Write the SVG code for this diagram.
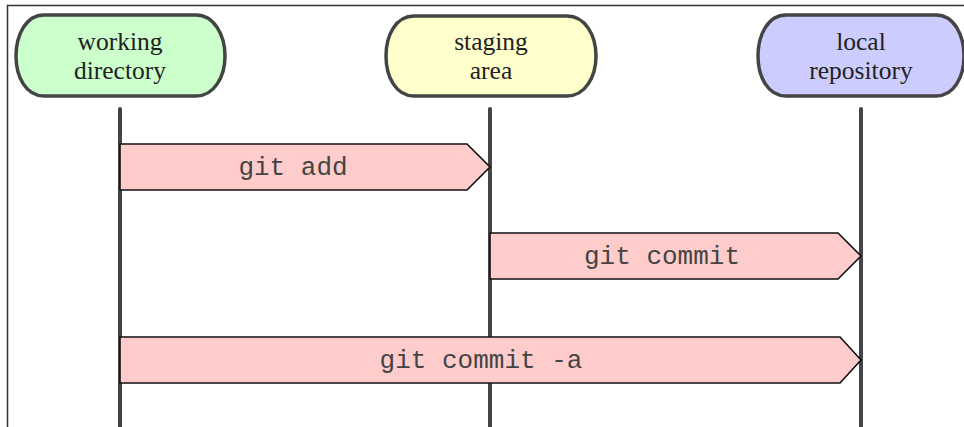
<svg xmlns="http://www.w3.org/2000/svg" width="964" height="427" viewBox="0 0 964 427">
<style>
.node{stroke:#444;stroke-width:3.5}
.nt{font-family:"Liberation Serif",serif;font-size:25.5px;fill:#222;text-anchor:middle}
.life{stroke:#444;stroke-width:4;stroke-linecap:round}
.arr{fill:#ffcccc;stroke:#111;stroke-width:1.6}
.at{font-family:"Liberation Mono",monospace;font-size:26px;fill:#444;text-anchor:middle}
</style>
<rect width="964" height="427" fill="#fff"/>
<path d="M7.5 427 V5.5 H964" fill="none" stroke="#333" stroke-width="1.5"/>
<g id="connectors">
<line class="life" x1="120" y1="109" x2="120" y2="427"/>
<line class="life" x1="490" y1="109" x2="490" y2="427"/>
<line class="life" x1="861" y1="109" x2="861" y2="427"/>
</g>
<g id="working-directory">
<path class="node" fill="#ccffcc" d="M44 15 H196 C214 15 225 35 225 56 C225 77 214 96 196 96 H44 C26 96 16 77 16 56 C16 35 26 15 44 15 Z"/>
<text class="nt" x="120" y="50">working</text>
<text class="nt" x="120" y="79">directory</text>
</g>
<g id="staging-area">
<path class="node" fill="#ffffcc" d="M414 16 H567 C585 16 596 35 596 56 C596 77 585 96 567 96 H414 C396 96 386 77 386 56 C386 35 396 16 414 16 Z"/>
<text class="nt" x="491" y="50">staging</text>
<text class="nt" x="491" y="79">area</text>
</g>
<g id="local-repository">
<path class="node" fill="#ccccff" d="M786 15 H936 C954 15 964 35 964 56 C964 77 954 96 936 96 H786 C768 96 758 77 758 56 C758 35 768 15 786 15 Z"/>
<text class="nt" x="861" y="50">local</text>
<text class="nt" x="861" y="79">repository</text>
</g>
<g id="git-add">
<path class="arr" d="M120 144 H467 L490 167 L467 190 H120 Z"/>
<text class="at" x="293" y="175">git add</text>
</g>
<g id="git-commit">
<path class="arr" d="M490 233 H838 L861 256 L838 279 H490 Z"/>
<text class="at" x="662" y="264">git commit</text>
</g>
<g id="git-commit-a">
<path class="arr" d="M120 337 H840 L861 360 L840 383 H120 Z"/>
<text class="at" x="481" y="368">git commit -a</text>
</g>
</svg>
